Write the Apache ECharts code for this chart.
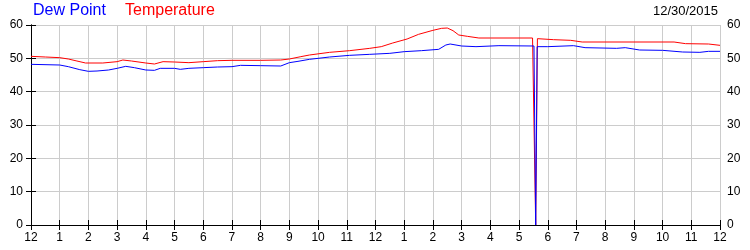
<!DOCTYPE html>
<html><head><meta charset="utf-8">
<script src="https://cdn.jsdelivr.net/npm/echarts@6/dist/echarts.min.js"></script>
<style>html,body{margin:0;padding:0;background:#fff}#c{width:750px;height:250px}</style>
</head><body><div id="c"></div>
<script>
const tempHours = [0,0.5,1.0,1.3,1.6,1.9,2.5,3.0,3.2,3.5,4.0,4.3,4.6,5.0,5.5,6.0,6.5,7.0,8.0,8.7,9.0,9.4,9.7,10.4,11.1,11.8,12.2,12.6,13.1,13.5,14.0,14.3,14.5,14.7,14.9,15.2,15.6,16.0,17.47,17.58,17.64,18.2,18.8,19.2,22.4,22.8,23.6,24];
const tempValues = [50.6,50.4,50.2,49.8,49.2,48.6,48.6,49.0,49.5,49.2,48.6,48.3,49.0,48.9,48.7,49.0,49.3,49.4,49.4,49.5,49.8,50.5,51.0,51.8,52.3,53.0,53.5,54.6,55.8,57.2,58.4,59.0,59.1,58.3,57.0,56.6,56.1,56.1,56.1,0,55.9,55.6,55.4,54.9,54.9,54.4,54.3,53.9];
const dewHours = [0,1.0,1.3,1.7,2.0,2.3,2.7,3.0,3.3,3.6,4.0,4.3,4.5,5.0,5.2,5.5,6.0,6.5,7.0,7.3,8.0,8.7,9.0,9.3,9.7,10.4,11.1,11.8,12.5,13.0,13.6,14.2,14.45,14.6,15.0,15.5,16.3,17.52,17.58,17.63,18.0,18.9,19.3,20.4,20.7,21.2,22.0,22.7,23.3,23.6,24];
const dewValues = [48.2,48.0,47.5,46.6,46.1,46.2,46.5,47.0,47.6,47.2,46.5,46.4,47.0,47.0,46.7,47.0,47.2,47.4,47.5,47.9,47.8,47.7,48.7,49.1,49.7,50.4,50.9,51.2,51.5,52.0,52.3,52.7,54.0,54.3,53.7,53.5,53.8,53.7,0,53.5,53.5,53.8,53.2,53.0,53.2,52.5,52.4,51.9,51.8,52.1,52.1];
const yTicks = [0,10,20,30,40,50,60];
const hourLabels = ['12','1','2','3','4','5','6','7','8','9','10','11','12','1','2','3','4','5','6','7','8','9','10','11','12'];
const legendNames = ['Dew Point','Temperature'];
const dateText = '12/30/2015';

const pair = (h, v) => h.map((x, i) => [x, v[i]]);
const FONT = 'Liberation Sans, Arial, sans-serif';
const chart = echarts.init(document.getElementById('c'), null, {renderer: 'canvas'});
const axisLine = {show: true, lineStyle: {color: '#000', width: 1}};
const axisTick = {show: true, inside: true, length: 5, lineStyle: {color: '#000'}};
chart.setOption({
  animation: false,
  backgroundColor: '#fff',
  title: [
    {text: legendNames[0], left: 33, top: 3, padding: 0, textStyle: {color: '#0000ff', fontSize: 16, fontWeight: 'normal', fontFamily: FONT}},
    {text: legendNames[1], left: 125, top: 3, padding: 0, textStyle: {color: '#ff0000', fontSize: 16, fontWeight: 'normal', fontFamily: FONT}},
    {text: dateText, right: 32, top: 5, padding: 0, textStyle: {color: '#000', fontSize: 13, fontWeight: 'normal', fontFamily: FONT}}
  ],
  grid: {left: 31, right: 30, top: 25, bottom: 25, containLabel: false},
  xAxis: [
    {type: 'value', min: 0, max: 24, interval: 1, position: 'bottom',
     axisLine, axisTick,
     axisLabel: {color: '#000', fontSize: 12, fontFamily: FONT, margin: 7, formatter: v => hourLabels[Math.round(v)]},
     splitLine: {show: true, lineStyle: {color: '#cccccc', width: 1}}},
    {type: 'value', min: 0, max: 24, interval: 1, position: 'top',
     axisLine, axisTick, axisLabel: {show: false}, splitLine: {show: false}}
  ],
  yAxis: [
    {type: 'value', min: yTicks[0], max: yTicks[yTicks.length-1], interval: 10, position: 'left',
     axisLine, axisTick,
     axisLabel: {color: '#000', fontSize: 12, fontFamily: FONT, margin: 8},
     splitLine: {show: true, lineStyle: {color: '#cccccc', width: 1}}},
    {type: 'value', min: yTicks[0], max: yTicks[yTicks.length-1], interval: 10, position: 'right',
     axisLine, axisTick,
     axisLabel: {color: '#000', fontSize: 12, fontFamily: FONT, margin: 7},
     splitLine: {show: false}}
  ],
  series: [
    {name: legendNames[1], type: 'line', data: pair(tempHours, tempValues), showSymbol: false, symbol: 'none',
     lineStyle: {color: '#ff0000', width: 1}, itemStyle: {color: '#ff0000'}, z: 3},
    {name: legendNames[0], type: 'line', data: pair(dewHours, dewValues), showSymbol: false, symbol: 'none',
     lineStyle: {color: '#0000ff', width: 1}, itemStyle: {color: '#0000ff'}, z: 4}
  ]
});
</script></body></html>
